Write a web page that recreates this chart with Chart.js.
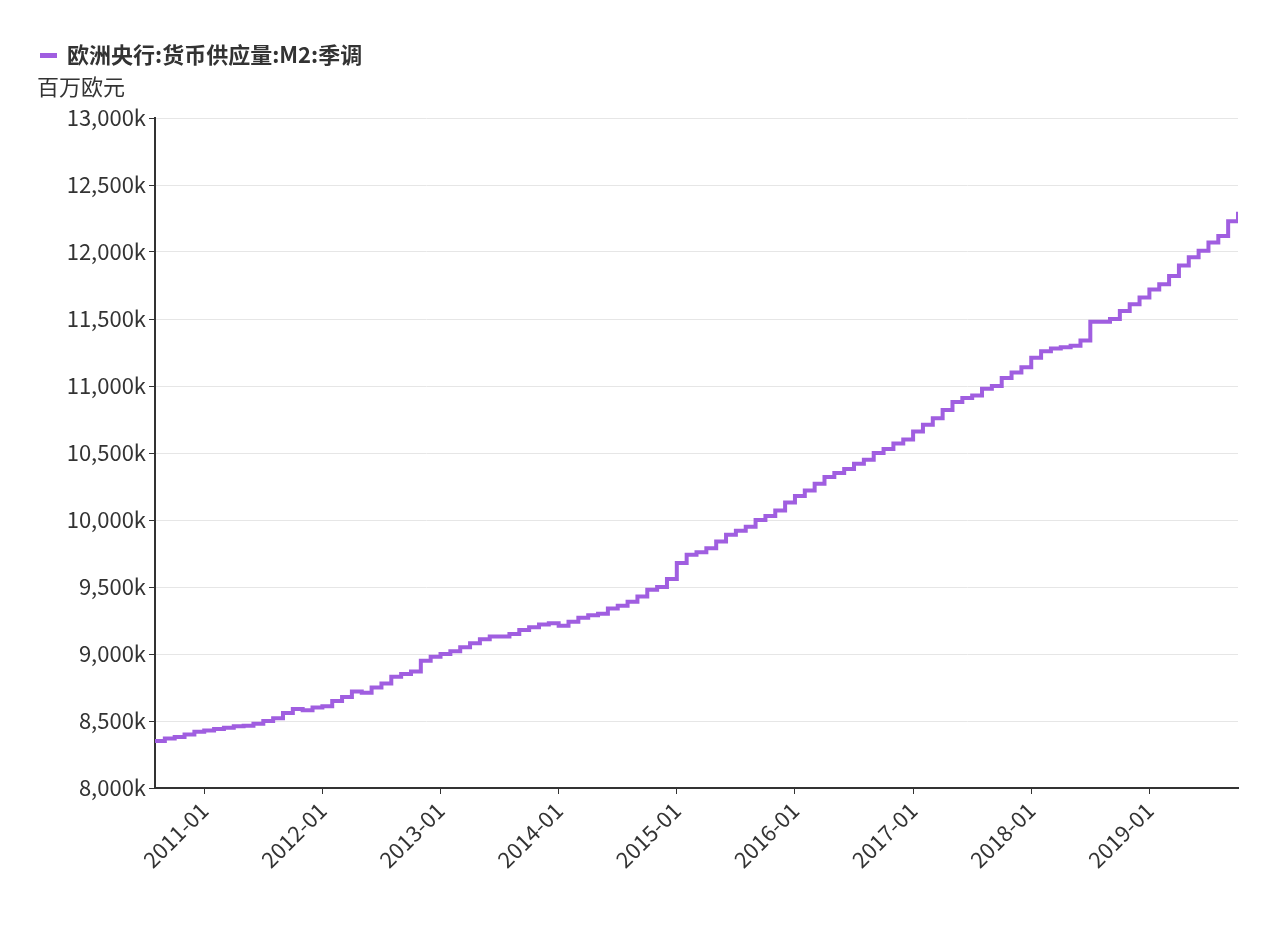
<!DOCTYPE html>
<html>
<head>
<meta charset="utf-8">
<script src="https://cdn.jsdelivr.net/npm/chart.js@4/dist/chart.umd.min.js"></script>
<style>
  body { margin: 0; background: #fff; }
  #wrap { width: 1269px; height: 930px; }
</style>
</head>
<body>
<div id="wrap"><canvas id="c"></canvas></div>
<script>
// Datos mensuales (mostrados con "k"), 2010-08 a 2019-10
const startYear = 2010, startMonth = 8;
const v2010 = [8350, 8370, 8380, 8400, 8420];
const v2011 = [8430, 8440, 8450, 8460, 8465, 8480, 8500, 8520, 8560, 8590, 8580, 8600];
const v2012 = [8610, 8650, 8680, 8720, 8710, 8750, 8780, 8830, 8850, 8870, 8950, 8980];
const v2013 = [9000, 9020, 9050, 9080, 9110, 9130, 9130, 9150, 9180, 9200, 9220, 9230];
const v2014 = [9210, 9240, 9270, 9290, 9300, 9340, 9360, 9390, 9430, 9480, 9500, 9560];
const v2015 = [9680, 9740, 9760, 9790, 9840, 9890, 9920, 9950, 10000, 10030, 10070, 10130];
const v2016 = [10180, 10220, 10270, 10320, 10350, 10380, 10420, 10450, 10500, 10530, 10570, 10600];
const v2017 = [10660, 10710, 10760, 10820, 10880, 10910, 10930, 10980, 11000, 11060, 11100, 11140];
const v2018 = [11210, 11260, 11280, 11290, 11300, 11340, 11480, 11480, 11500, 11560, 11610, 11660];
const v2019 = [11720, 11760, 11820, 11900, 11960, 12010, 12070, 12120, 12230, 12300];
const values = [].concat(v2010, v2011, v2012, v2013, v2014, v2015, v2016, v2017, v2018, v2019);
const yTicks = [8000, 8500, 9000, 9500, 10000, 10500, 11000, 11500, 12000, 12500, 13000];
const seriesName = "欧洲央行:货币供应量:M2:季调";
const unitLabel = "百万欧元";
const lineColor = "#a05ee0";

// Etiquetas de mes
const labels = values.map((_, i) => {
  const m = startMonth - 1 + i;
  const y = startYear + Math.floor(m / 12);
  return y + "-" + String((m % 12) + 1).padStart(2, "0");
});
const points = values.map((v, i) => ({ x: i, y: v }));
const janIdx = labels.map((l, i) => (l.endsWith("-01") ? i : -1)).filter((i) => i >= 0);

const font = "'Noto Sans CJK SC', 'Noto Sans', sans-serif";

// Plugin para la leyenda y la unidad del eje Y
const headerPlugin = {
  id: "headerText",
  afterDraw: (chart) => {
    const { ctx } = chart;
    ctx.save();
    ctx.fillStyle = lineColor;
    ctx.fillRect(40, 53, 17, 5);
    ctx.font = "bold 22px " + font;
    ctx.fillStyle = "#333";
    ctx.textBaseline = "middle";
    ctx.fillText(chart.data.datasets[0].label, 67, 55);
    ctx.font = "22px " + font;
    ctx.fillText(unitLabel, 37, 87);
    ctx.restore();
  },
};

new Chart(document.getElementById("c"), {
  type: "line",
  data: {
    datasets: [{
      label: seriesName,
      data: points,
      borderColor: lineColor,
      backgroundColor: lineColor,
      borderWidth: 4,
      pointRadius: 0,
      stepped: true,
    }],
  },
  options: {
    animation: false,
    responsive: true,
    maintainAspectRatio: false,
    layout: { padding: { top: 118, right: 31, left: 0, bottom: 0 } },
    plugins: {
      legend: { display: false },
      tooltip: { enabled: false },
    },
    scales: {
      x: {
        type: "linear",
        min: 0,
        max: values.length - 1,
        afterBuildTicks: (scale) => { scale.ticks = janIdx.map((i) => ({ value: i })); },
        afterFit: (scale) => { scale.height = 142; },
        ticks: {
          callback: (v) => labels[v],
          color: "#333",
          maxRotation: 45,
          minRotation: 45,
          font: { family: font, size: 22 },
        },
        grid: { drawOnChartArea: false, tickLength: 6, color: "#333" },
        border: { color: "#333", width: 2 },
      },
      y: {
        min: 8000,
        max: 13000,
        afterBuildTicks: (scale) => { scale.ticks = yTicks.map((v) => ({ value: v })); },
        afterFit: (scale) => { scale.width = 155; },
        ticks: {
          callback: (v) => v.toLocaleString("en-US") + "k",
          color: "#333",
          font: { family: font, size: 22 },
        },
        grid: { color: "#e6e6e6", tickLength: 6, tickColor: "#333" },
        border: { color: "#333", width: 2 },
      },
    },
  },
  plugins: [headerPlugin],
});
</script>
</body>
</html>
